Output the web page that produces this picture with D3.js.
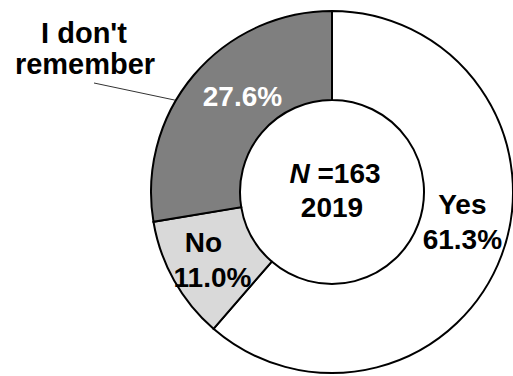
<!DOCTYPE html>
<html>
<head>
<meta charset="utf-8">
<script src="https://cdn.jsdelivr.net/npm/d3@7"></script>
<style>
  body { margin: 0; background: #fff; }
  text { font-family: "Liberation Sans", Arial, sans-serif; font-weight: bold; }
</style>
</head>
<body>
<div id="plot"></div>
<script>
// survey answers, 2019
var categories = ["Yes", "No", "I don't remember"];
var values = [61.3, 11.0, 27.6];
var sampleSize = 163;
var year = "2019";

var svgWidth = 513;
var svgHeight = 376;

var cx = 332, cy = 192;
var outerR = 181, innerR = 92;

var svg = d3.select("#plot")
  .append("svg")
  .attr("width", svgWidth)
  .attr("height", svgHeight);

var chartGroup = svg.append("g")
  .attr("transform", `translate(${cx}, ${cy})`);

var color = d3.scaleOrdinal()
  .domain(categories)
  .range(["#ffffff", "#d9d9d9", "#7f7f7f"]);

var data = categories.map(function (c, i) { return { name: c, value: values[i] }; });

var pie = d3.pie()
  .sort(null)
  .value(d => d.value);

var arc = d3.arc()
  .innerRadius(innerR)
  .outerRadius(outerR);

var arcs = pie(data);

chartGroup.selectAll("path")
  .data(arcs)
  .enter()
  .append("path")
  .attr("d", arc)
  .attr("fill", d => color(d.data.name))
  .attr("stroke", "#000")
  .attr("stroke-width", 2);

// slice labels, placed from the centroid and nudged by hand
// [dx name, dx pct, dy first baseline]
var labelArc = d3.arc().innerRadius(137).outerRadius(137);
var nudge = {
  "Yes": [2, 2, -26],
  "No": [-9, 0, -7],
  "I don't remember": [0, 15, 3]
};
var lineGap = 35;

arcs.forEach(function (d) {
  var c = labelArc.centroid(d);
  var off = nudge[d.data.name];
  var pct = d.data.value.toFixed(1) + "%";
  if (d.data.name === "I don't remember") {
    chartGroup.append("text")
      .attr("text-anchor", "middle")
      .attr("font-size", "28px")
      .attr("fill", "#fff")
      .attr("x", c[0] + off[1])
      .attr("y", c[1] + off[2])
      .text(pct);
  } else {
    var t = chartGroup.append("text")
      .attr("text-anchor", "middle")
      .attr("font-size", "28px")
      .attr("fill", "#000");
    t.append("tspan").attr("x", c[0] + off[0]).attr("y", c[1] + off[2]).text(d.data.name);
    t.append("tspan").attr("x", c[0] + off[1]).attr("y", c[1] + off[2] + lineGap).text(pct);
  }
});

// outside label for the dark slice
var dk = arcs[2];
var leaderAngle = dk.startAngle + (dk.endAngle - dk.startAngle) * 0.4;
var leaderEnd = [Math.sin(leaderAngle) * (outerR + 1), -Math.cos(leaderAngle) * (outerR + 1)];

chartGroup.append("line")
  .attr("x1", 94 - cx)
  .attr("y1", 83 - cy)
  .attr("x2", leaderEnd[0])
  .attr("y2", leaderEnd[1])
  .attr("stroke", "#333")
  .attr("stroke-width", 1);

var outside = svg.append("text")
  .attr("text-anchor", "middle")
  .attr("font-size", "29px")
  .attr("fill", "#000");
outside.append("tspan").attr("x", 84).attr("y", 43).text("I don't");
outside.append("tspan").attr("x", 85).attr("y", 74).text("remember");

// centre text
var centre = chartGroup.append("text")
  .attr("text-anchor", "middle")
  .attr("font-size", "28px")
  .attr("fill", "#000");
var l1 = centre.append("tspan").attr("x", 3).attr("y", -9);
l1.append("tspan").attr("font-style", "italic").text("N");
l1.append("tspan").text(" =" + sampleSize);
centre.append("tspan").attr("x", 0).attr("y", 25).text(year);
</script>
</body>
</html>
